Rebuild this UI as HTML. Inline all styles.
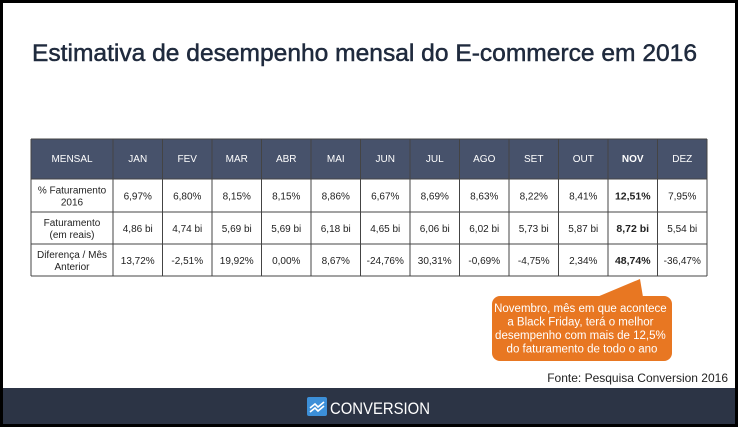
<!DOCTYPE html>
<html><head><meta charset="utf-8"><style>
html,body{margin:0;padding:0;background:#fff;}
svg{display:block;font-family:"Liberation Sans",sans-serif;}
</style></head><body>
<svg id="s" width="738" height="427" viewBox="0 0 738 427">
<rect x="0" y="0" width="738" height="427" fill="#fff"/>
<text x="32" y="61" font-size="24" fill="#1f2a3d" stroke="#1f2a3d" stroke-width="0.5" textLength="665" lengthAdjust="spacingAndGlyphs">Estimativa de desempenho mensal do E-commerce em 2016</text>
<g id="tbl"></g>
<g>
<path d="M597 297 L640 279 L643 297 Z" fill="#e87722"/>
<rect x="492" y="296" width="180" height="65" rx="8" fill="#e87722"/>
<text font-size="11.5" fill="#fff" text-anchor="middle" font-family="Liberation Sans Narrow, Liberation Sans, sans-serif">
<tspan x="582" y="312">Novembro, mês em que acontece</tspan>
<tspan x="582" y="325.5">a Black Friday, terá o melhor</tspan>
<tspan x="582" y="339">desempenho com mais de 12,5%</tspan>
<tspan x="582" y="352.5">do faturamento de todo o ano</tspan>
</text>
</g>
<text x="728" y="382" font-size="12" fill="#222" text-anchor="end">Fonte: Pesquisa Conversion 2016</text>
<rect x="0" y="388" width="738" height="39" fill="#2c3445"/>
<g>
<rect x="307" y="397" width="20" height="19" rx="2" fill="#3c8fd8"/>
<path d="M310 408 l5 -4 l3 3 l6 -5 M310 412 l5 -4 l3 3 l6 -5" stroke="#fff" stroke-width="1.6" fill="none"/>
<text x="330" y="414" font-size="17" fill="#fff" textLength="100" lengthAdjust="spacingAndGlyphs">CONVERSION</text>
</g>
<rect x="1.5" y="1.5" width="735" height="424" fill="none" stroke="#000" stroke-width="3"/>
</svg>
<script>
const months = ["JAN","FEV","MAR","ABR","MAI","JUN","JUL","AGO","SET","OUT","NOV","DEZ"];
const sharePct = ["6,97%","6,80%","8,15%","8,15%","8,86%","6,67%","8,69%","8,63%","8,22%","8,41%","12,51%","7,95%"];
const revenue = ["4,86 bi","4,74 bi","5,69 bi","5,69 bi","6,18 bi","4,65 bi","6,06 bi","6,02 bi","5,73 bi","5,87 bi","8,72 bi","5,54 bi"];
const diffPrev = ["13,72%","-2,51%","19,92%","0,00%","8,67%","-24,76%","30,31%","-0,69%","-4,75%","2,34%","48,74%","-36,47%"];
const rowLabels = [["% Faturamento","2016"],["Faturamento","(em reais)"],["Diferença / Mês","Anterior"]];
const highlight = "NOV";

const NS="http://www.w3.org/2000/svg";
const g=document.getElementById('tbl');
const xL=31, xR=707, firstW=82;
const colW=(xR-xL-firstW)/months.length;
const rowsY=[139,179,212,244,276];
function mk(t,a){const e=document.createElementNS(NS,t);for(const k in a)e.setAttribute(k,a[k]);g.appendChild(e);return e;}
const hdr=mk('rect',{x:xL,y:rowsY[0],width:xR-xL,height:rowsY[1]-rowsY[0],fill:'#47526b'});


function txt(x,y,s,opt){const e=mk('text',Object.assign({x:x,y:y,'font-size':10,'text-anchor':'middle',fill:'#222'},opt||{}));e.textContent=s;return e;}
const h0=txt(xL+firstW/2,rowsY[0]+23,"MENSAL",{fill:'#fff'});


months.forEach((m,i)=>{const cx=xL+firstW+colW*(i+0.5);
  const e=txt(cx,rowsY[0]+23,m,{fill:'#fff','font-weight':m===highlight?'bold':'normal'});
  
  
});
const data=[sharePct,revenue,diffPrev];
data.forEach((row,r)=>{const y0=rowsY[r+1],y1=rowsY[r+2],cy=(y0+y1)/2;
  const l=rowLabels[r];
  const lt=txt(xL+firstW/2,cy-2,l[0]);
  
  
  txt(xL+firstW/2,cy+10,l[1]);
  row.forEach((v,i)=>{const cx=xL+firstW+colW*(i+0.5);
    const e=txt(cx,cy+4,v,{'font-weight':months[i]===highlight?'bold':'normal','font-size':months[i]===highlight?10.5:10});
    
    
  });
});
rowsY.forEach(y=>mk('line',{x1:xL,x2:xR,y1:y,y2:y,stroke:'#444','stroke-width':1}));
const xs=[xL,xL+firstW];months.forEach((m,i)=>xs.push(xL+firstW+colW*(i+1)));
xs.forEach(x=>mk('line',{x1:x,x2:x,y1:rowsY[0],y2:rowsY[4],stroke:'#444','stroke-width':1}));
</script>
</body></html>
